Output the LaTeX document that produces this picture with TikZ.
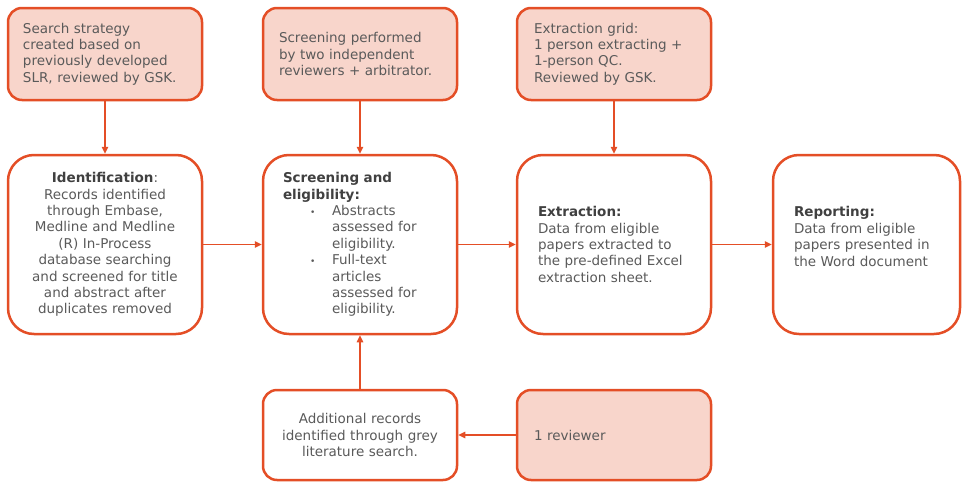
\documentclass[tikz,border=0pt]{standalone}
\usepackage{fontspec}
\setmainfont{DejaVu Sans}
\usetikzlibrary{arrows.meta}
\definecolor{borange}{RGB}{228,78,38}
\definecolor{pfill}{RGB}{248,213,203}
\definecolor{tgray}{RGB}{90,90,90}
\definecolor{tdark}{RGB}{64,64,64}
\newcommand{\hd}[1]{{\color{tdark}\bfseries #1}}
\newcommand{\bul}{{\fontsize{9}{9}\selectfont •}}
\tikzset{
 box/.style={draw=borange, line width=2.5pt, text=tgray, font=\fontsize{13.5}{16.4}\selectfont, minimum width=194pt, inner xsep=0pt, inner ysep=0pt},
 topbox/.style={box, fill=pfill, rounded corners=14pt, minimum height=92pt, align=left},
 midbox/.style={box, fill=white, rounded corners=26pt, minimum height=179pt},
 lowbox/.style={box, rounded corners=14pt, minimum height=90pt},
 conn/.style={draw=borange, line width=1.3pt, -{Triangle[length=7pt,width=6.5pt]}},
}
\begin{document}
\begin{tikzpicture}[x=1pt,y=1pt]
\useasboundingbox (0,0) rectangle (962,-482);
\node[topbox, text width=164pt] (A) at (105,-54) {Search strategy\\created based on\\previously developed\\SLR, reviewed by GSK.};
\node[topbox, text width=162pt] (B) at (360,-54) {Screening performed\\by two independent\\reviewers + arbitrator.};
\node[topbox, text width=160pt] (C) at (614,-54) {Extraction grid:\\1 person extracting +\\1-person QC.\\Reviewed by GSK.};
\node[midbox, text width=180pt, align=center] (D) at (105,-244.5) {\hd{Identification}:\\Records identified\\through Embase,\\Medline and Medline\\(R) In-Process\\database searching\\and screened for title\\and abstract after\\duplicates removed};
\node[midbox, text width=154pt, align=left] (E) at (360,-244.5) {\hd{Screening and}\\\hd{eligibility:}\\
\hspace*{27pt}\makebox[22pt][l]{\bul}Abstracts\\
\hspace*{49pt}assessed for\\
\hspace*{49pt}eligibility.\\
\hspace*{27pt}\makebox[22pt][l]{\bul}Full-text\\
\hspace*{49pt}articles\\
\hspace*{49pt}assessed for\\
\hspace*{49pt}eligibility.};
\node[midbox, text width=152pt, align=left] (F) at (614,-244.5) {\hd{Extraction:}\\Data from eligible\\papers extracted to\\the pre-defined Excel\\extraction sheet.};
\node[midbox, minimum width=187pt, text width=145pt, align=left] (G) at (866.5,-244.5) {\hd{Reporting:}\\Data from eligible\\papers presented in\\the Word document\\\mbox{}};
\node[lowbox, fill=white, text width=180pt, align=center] (H) at (360,-435) {Additional records\\identified through grey\\literature search.};
\node[lowbox, fill=pfill, text width=160pt, align=left] (I) at (614,-435) {1 reviewer};
\draw[conn] (A) -- (D);
\draw[conn] (B) -- (E);
\draw[conn] (C) -- (F);
\draw[conn] (D) -- (E);
\draw[conn] (E) -- (F);
\draw[conn] (F) -- (G);
\draw[conn] (H) -- (E);
\draw[conn] (I) -- (H);
\end{tikzpicture}
\end{document}
